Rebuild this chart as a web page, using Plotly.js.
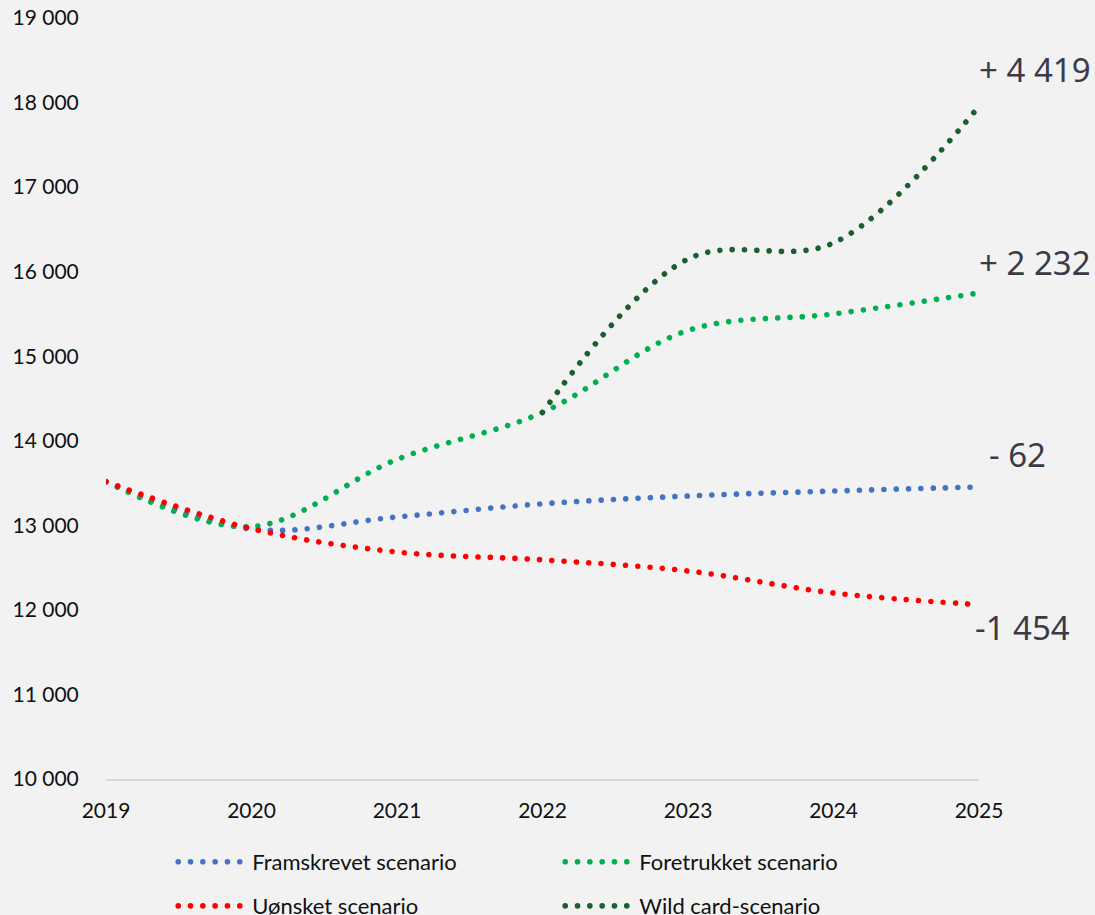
<!DOCTYPE html>
<html>
<head>
<meta charset="utf-8">
<script src="https://cdn.plot.ly/plotly-3.0.1.min.js"></script>
<style>
  html, body { margin: 0; padding: 0; background: #f2f2f2; }
  #chart { width: 1095px; height: 915px; }
  #chart .js-line { stroke-linecap: round !important; }
</style>
</head>
<body>
<div id="chart"></div>
<script>
// ---- data ----
const years = [2019, 2020, 2021, 2022, 2023, 2024, 2025];
const framskrevet = [13516, 12955, 13099, 13255, 13347, 13406, 13454];
const foretrukket = [13516, 12985, 13780, 14335, 15305, 15500, 15748];
const uonsket = [13516, 12960, 12685, 12592, 12460, 12200, 12062];
const wildYears = [2022, 2023, 2024, 2025];
const wildcard = [14335, 16150, 16340, 17955];
const seriesNames = ['Framskrevet scenario', 'Foretrukket scenario', 'Uønsket scenario', 'Wild card-scenario'];
const yTickVals = [10000, 11000, 12000, 13000, 14000, 15000, 16000, 17000, 18000, 19000];
const yTickText = ['10 000', '11 000', '12 000', '13 000', '14 000', '15 000', '16 000', '17 000', '18 000', '19 000'];
const xTickText = ['2019', '2020', '2021', '2022', '2023', '2024', '2025'];
const changeLabels = ['- 62', '+ 2 232', '-1 454', '+ 4 419'];
const changeLabelY = [13832, 16114, 11786, 18396];

const dotDash = '0.01px,12.3px';
function tr(x, y, name, color, legend) {
  return {
    x: x, y: y, name: name, type: 'scatter', mode: 'lines',
    line: { color: color, width: 5.6, dash: dotDash, shape: 'spline', smoothing: 1 },
    cliponaxis: false, legend: legend, hoverinfo: 'x+y+name'
  };
}
const data = [
  tr(years, framskrevet, seriesNames[0], '#4472C4', 'legend'),
  tr(years, foretrukket, seriesNames[1], '#00B050', 'legend'),
  tr(years, uonsket, seriesNames[2], '#FF0000', 'legend2'),
  tr(wildYears, wildcard, seriesNames[3], '#1B5E30', 'legend2')
];

const annFont = { family: 'Noto Sans, sans-serif', size: 33, color: '#3b3b47' };
const annX = [2025, 2025, 2025, 2025];
const annShift = [8, -2, -6, -2];
const annotations = changeLabels.map((t, i) => ({
  x: annX[i], y: changeLabelY[i], xref: 'x', yref: 'y', text: t,
  showarrow: false, xanchor: 'left', yanchor: 'middle', xshift: annShift[i], font: annFont
}));

const tickFont = { family: 'Lato, sans-serif', size: 21, color: '#111111' };
const legendBase = {
  orientation: 'h', x: 0.077, xanchor: 'left', yanchor: 'middle',
  entrywidth: 303, entrywidthmode: 'pixels', itemwidth: 69,
  font: { family: 'Lato, sans-serif', size: 22, color: '#111111' },
  bgcolor: 'rgba(0,0,0,0)', itemclick: false, itemdoubleclick: false
};

const layout = {
  width: 1095, height: 915,
  paper_bgcolor: '#f2f2f2', plot_bgcolor: '#f2f2f2',
  margin: { l: 106, r: 116, t: 18, b: 136, autoexpand: false },
  showlegend: true,
  legend: Object.assign({}, legendBase, { y: -0.109 }),
  legend2: Object.assign({}, legendBase, { y: -0.167 }),
  xaxis: {
    range: [2019, 2025], tickvals: years, ticktext: xTickText,
    showgrid: false, zeroline: false, showline: true, linecolor: '#d9d9d9', linewidth: 2,
    ticks: 'outside', ticklen: 12, tickcolor: 'rgba(0,0,0,0)', tickfont: tickFont
  },
  yaxis: {
    range: [10000, 19000], tickvals: yTickVals, ticktext: yTickText,
    showgrid: false, zeroline: false, showline: false,
    ticks: 'outside', ticklen: 22, tickcolor: 'rgba(0,0,0,0)', tickfont: tickFont
  },
  annotations: annotations
};

Plotly.newPlot('chart', data, layout, { displayModeBar: false, staticPlot: true }).then(function (gd) {
  gd.querySelectorAll('.legendlines path').forEach(function (p) {
    p.setAttribute('d', 'M5,0h62');
  });
});
</script>
</body>
</html>
